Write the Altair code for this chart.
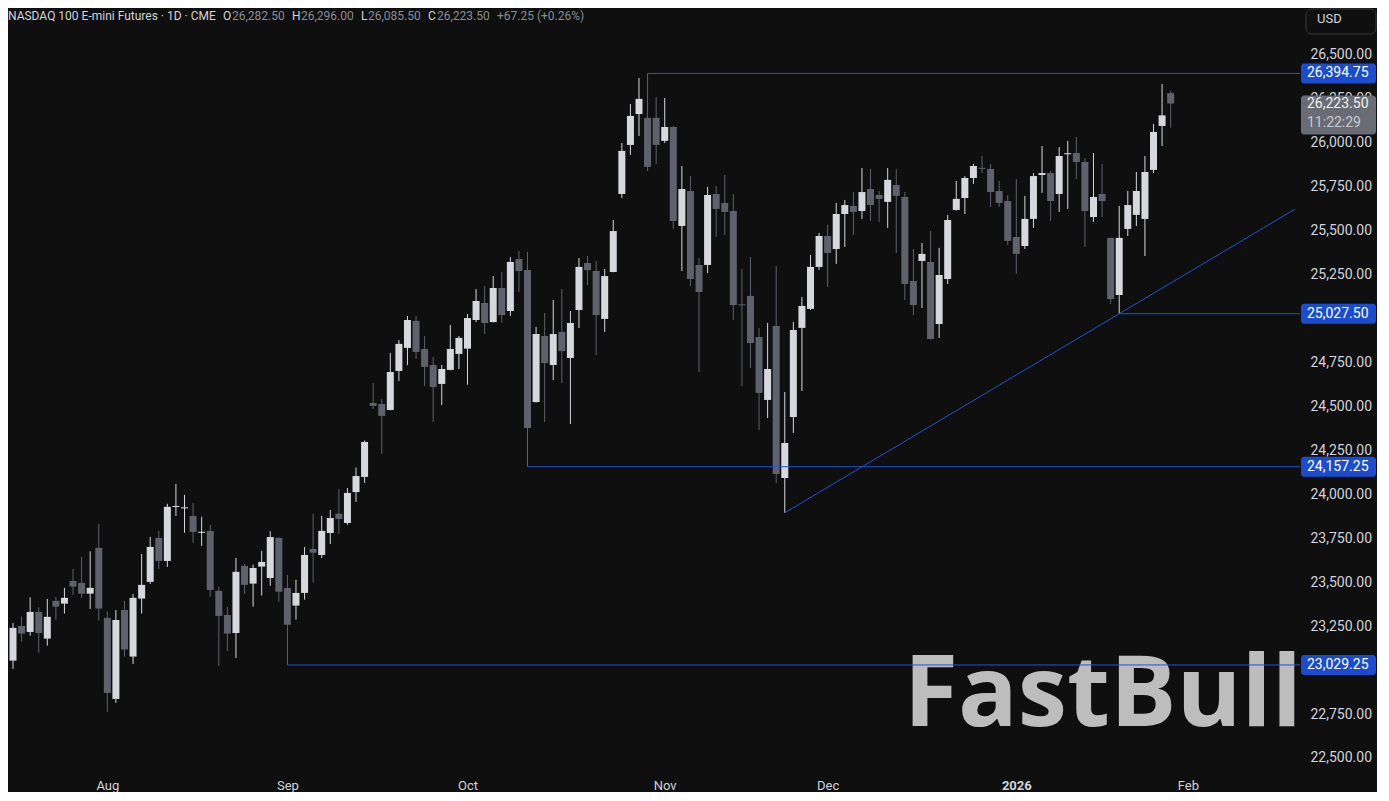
import altair as alt
import pandas as pd

# ---------------- data ----------------
opens = [23054, 23251, 23217, 23331, 23179, 23394, 23378, 23507, 23496, 23435,
         23695, 23297, 22836, 23342, 23077, 23407, 23502, 23752, 23621, 23928,
         23920, 23877, 23781, 23792, 23451, 23314, 23211, 23593, 23492, 23589,
         23524, 23752, 23467, 23367, 23439, 23689, 23655, 23780, 23890, 23837,
         24013, 24099, 24520, 24514, 24480, 24702, 24833, 24987, 24827, 24736,
         24628, 24708, 24799, 24829, 24992, 25089, 24980, 25174, 25043, 25339,
         25276, 24525, 24901, 24736, 24924, 24776, 25049, 25316, 25271, 24998,
         25265, 25709, 25988, 26164, 26142, 26142, 26011, 26090, 25527, 25726,
         25305, 25305, 25709, 25658, 25612, 25081, 25129, 24895, 24537, 24958,
         24093, 24440, 24947, 25055, 25294, 25470, 25396, 25595, 25641, 25612,
         25737, 25703, 25664, 25760, 25692, 25214, 25328, 25322, 24969, 25225,
         25618, 25686, 25800, 25858, 25851, 25726, 25669, 25464, 25413, 25567,
         25817, 25828, 25709, 25935, 25942, 25891, 25578, 25709, 25459, 25134,
         25510, 25590, 25567, 25846, 26096, 26282.50]
highs = [23268, 23306, 23414, 23358, 23405, 23416, 23468, 23576, 23644, 23676,
         23832, 23335, 23342, 23394, 23433, 23661, 23758, 23792, 23946, 24059,
         23997, 23951, 23872, 23826, 23473, 23360, 23638, 23604, 23600, 23678,
         23790, 23755, 23541, 23514, 23700, 23890, 23877, 23911, 24031, 24036,
         24152, 24306, 24634, 24543, 24804, 24878, 25015, 25015, 24901, 24782,
         24736, 24964, 24901, 25026, 25168, 25185, 25242, 25265, 25350, 25385,
         25379, 24952, 25032, 25106, 25168, 25043, 25345, 25356, 25328, 25282,
         25561, 25999, 26221, 26369, 26394.75, 26261, 26255, 26095, 25868, 25811,
         25345, 25749, 25755, 25817, 25709, 25282, 25351, 24946, 24975, 25299,
         24582, 24981, 25123, 25362, 25487, 25533, 25658, 25675, 25720, 25857,
         25851, 25726, 25857, 25851, 25720, 25396, 25430, 25498, 25402, 25589,
         25783, 25811, 25880, 25925, 25880, 25783, 25703, 25794, 25698, 25828,
         25982, 25840, 25976, 26011, 26033, 25914, 25942, 25880, 25462, 25641,
         25726, 25834, 25925, 26107, 26335, 26296.00]
lows = [23007, 23162, 23196, 23098, 23139, 23287, 23322, 23428, 23411, 23348,
        23282, 22762, 22813, 23077, 23035, 23322, 23490, 23576, 23587, 23877,
        23781, 23724, 23707, 23416, 23024, 23109, 23069, 23433, 23361, 23424,
        23480, 23389, 23029.25, 23287, 23401, 23497, 23638, 23717, 23776, 23826,
        23957, 24065, 24486, 24230, 24478, 24645, 24736, 24770, 24617, 24412,
        24508, 24706, 24713, 24624, 24980, 24912, 24978, 24975, 25015, 25151,
        24157.25, 24523, 24411, 24650, 24633, 24400, 24946, 25191, 24793, 24924,
        25263, 25686, 25931, 26039, 25840, 25880, 25999, 25510, 25271, 25185,
        24696, 25259, 25464, 25476, 24992, 24616, 24719, 24366, 24434, 24064,
        23895, 24349, 24588, 25049, 25277, 25180, 25311, 25407, 25476, 25567,
        25555, 25550, 25516, 25373, 25106, 25020, 25060, 24880, 24890, 25197,
        25615, 25595, 25766, 25828, 25635, 25635, 25419, 25254, 25396, 25516,
        25715, 25555, 25607, 25624, 25794, 25407, 25550, 25578, 25083, 25027.50,
        25470, 25527, 25356, 25828, 25982, 26085.50]
closes = [23240, 23208, 23331, 23211, 23303, 23361, 23411, 23475, 23435, 23468,
          23350, 22870, 23285, 23117, 23411, 23485, 23701, 23621, 23929, 23934,
          23926, 23786, 23787, 23456, 23308, 23208, 23559, 23485, 23581, 23615,
          23757, 23446, 23258, 23439, 23655, 23668, 23792, 23865, 23860, 24008,
          24104, 24298, 24503, 24446, 24696, 24856, 24992, 24810, 24725, 24611,
          24713, 24827, 24890, 25003, 25100, 24975, 25174, 25020, 25322, 25271,
          24377, 24912, 24747, 24912, 24815, 24975, 25294, 25276, 25020, 25242,
          25498, 25954, 26153, 26250, 25863, 25988, 26090, 25555, 25737, 25225,
          25151, 25703, 25624, 25607, 25077, 25075, 24861, 24577, 24713, 24116,
          24292, 24935, 25072, 25294, 25470, 25373, 25595, 25646, 25607, 25720,
          25646, 25681, 25789, 25698, 25197, 25077, 25368, 24884, 25248, 25561,
          25681, 25800, 25868, 25852, 25720, 25658, 25442, 25368, 25567, 25811,
          25828, 25669, 25925, 25941, 25891, 25612, 25692, 25669, 25111, 25459,
          25646, 25726, 25834, 26062, 26156.25, 26223.50]

month_labels = ["Aug", "Sep", "Oct", "Nov", "Dec", "2026", "Feb"]
month_start_idx = [12, 33, 54, 77, 96, 118, 138]

level_prices = [26394.75, 25027.50, 24157.25, 23029.25]
level_start_idx = [75, 130, 61, 33]

trend_idx = [91, 130]
trend_price = [23895.0, 25027.5]

countdown = "11:22:29"
# price-axis labels that are visible (25,000 and 23,000 sit under level tags)
y_ticks = [22500, 22750, 23250, 23500, 23750, 24000, 24250, 24500, 24750,
           25250, 25500, 25750, 26000, 26250, 26500]

# ---------------- styling ----------------
BG = "#0f0f0f"
UP = "#d6d8de"
DOWN = "#5f626c"
BLUE = "#2152d8"
TAGBLUE = "#1b4cd0"
TXT = "#d1d4dc"
GRAYTXT = "#8a8d96"
FONT = "Roboto"

W, H = 1292, 754
X0, X1 = 1.0, 150.5
Y0, Y1 = 22460, 26750

n = len(opens)
df = pd.DataFrame({"i": list(range(1, n + 1)), "open": opens, "high": highs,
                   "low": lows, "close": closes})
df["dir"] = ["up" if c >= o else "down" for o, c in zip(opens, closes)]

lab_expr = "".join(f"datum.value == {i} ? '{m}' : " for i, m in zip(month_start_idx, month_labels)) + "''"
year_idx = month_start_idx[month_labels.index("2026")]

xs = alt.Scale(domain=[X0, X1], nice=False, zero=False)
ys = alt.Scale(domain=[Y0, Y1], nice=False, zero=False)

x_axis = alt.Axis(values=month_start_idx, labelExpr=lab_expr, title=None, grid=False,
                  domain=False, ticks=False, labelColor=TXT, labelFontSize=13,
                  labelFont=FONT, labelPadding=14, labelFlush=False, labelOverlap=False,
                  labelFontWeight={"expr": f"datum.value == {year_idx} ? 'bold' : 'normal'"})
y_axis = alt.Axis(values=y_ticks, format=",.2f", orient="right", title=None, grid=False,
                  domain=False, ticks=False, labelColor=TXT, labelFontSize=14,
                  labelFont=FONT, labelPadding=10, labelFlush=False, labelOverlap=False)

color = alt.Color("dir:N", scale=alt.Scale(domain=["up", "down"], range=[UP, DOWN]), legend=None)

one = pd.DataFrame({"a": [0]})

watermark = alt.Chart(one).mark_text(
    text="FastBull", font="Open Sans", fontWeight="bold", fontSize=99,
    color="#bdbdbd", align="right", baseline="alphabetic",
).encode(x=alt.value(W + 2), y=alt.value(715))

wicks = alt.Chart(df).mark_rule(strokeWidth=1, clip=True).encode(
    x=alt.X("i:Q", scale=xs, axis=x_axis),
    y=alt.Y("low:Q", scale=ys, axis=y_axis),
    y2="high:Q",
    color=color,
)
bodies = alt.Chart(df).mark_bar(size=7, clip=True).encode(
    x="i:Q", y="open:Q", y2="close:Q", color=color,
)

lv = pd.DataFrame({"price": level_prices, "start": level_start_idx,
                   "label": [f"{p:,.2f}" for p in level_prices]})
levels = alt.Chart(lv).mark_rule(color=BLUE, strokeWidth=1).encode(
    x="start:Q", x2=alt.value(W), y="price:Q",
)

slope = (trend_price[1] - trend_price[0]) / (trend_idx[1] - trend_idx[0])
tr = pd.DataFrame({"xa": [trend_idx[0]], "ya": [trend_price[0]],
                   "xb": [X1], "yb": [trend_price[1] + slope * (X1 - trend_idx[1])]})
trend = alt.Chart(tr).mark_rule(color=BLUE, strokeWidth=1).encode(
    x="xa:Q", y="ya:Q", x2="xb:Q", y2="yb:Q",
)

tag_rect = alt.Chart(lv).mark_rect(color=TAGBLUE, yOffset=-10, y2Offset=10, cornerRadius=3).encode(
    x=alt.value(W + 1), x2=alt.value(W + 76), y="price:Q", y2="price:Q",
)
tag_text = alt.Chart(lv).mark_text(align="left", baseline="middle", fontSize=14, font=FONT,
                                   color="#ffffff").encode(
    x=alt.value(W + 7), y="price:Q", text="label:N",
)

last = pd.DataFrame({"price": [closes[-1]], "label": [f"{closes[-1]:,.2f}"], "cd": [countdown]})
last_rect = alt.Chart(last).mark_rect(color="#6a6c75", yOffset=-8, y2Offset=31, cornerRadius=3).encode(
    x=alt.value(W + 1), x2=alt.value(W + 76), y="price:Q", y2="price:Q",
)
last_text = alt.Chart(last).mark_text(align="left", baseline="middle", fontSize=14, font=FONT,
                                      color="#f0f0f0").encode(
    x=alt.value(W + 7), y="price:Q", text="label:N",
)
last_cd = alt.Chart(last).mark_text(align="left", baseline="middle", fontSize=14, font=FONT,
                                    color="#c8c9d0", dy=19).encode(
    x=alt.value(W + 7), y="price:Q", text="cd:N",
)

usd_box = alt.Chart(one).mark_rect(fill=BG, stroke="#3a3b40", strokeWidth=1, cornerRadius=6).encode(
    x=alt.value(W + 6), x2=alt.value(W + 76), y=alt.value(-2), y2=alt.value(23),
)
usd_text = alt.Chart(one).mark_text(text="USD", align="left", baseline="middle", fontSize=13,
                                    font=FONT, color=TXT).encode(
    x=alt.value(W + 17), y=alt.value(8),
)

chg = closes[-1] - closes[-2]
pct = chg / closes[-2] * 100
segments = [
    ("NASDAQ 100 E-mini Futures · 1D · CME", TXT, 0),
    ("O", TXT, 215), (f"{opens[-1]:,.2f}", GRAYTXT, 224),
    ("H", TXT, 284), (f"{highs[-1]:,.2f}", GRAYTXT, 293),
    ("L", TXT, 353), (f"{lows[-1]:,.2f}", GRAYTXT, 360),
    ("C", TXT, 420), (f"{closes[-1]:,.2f}", GRAYTXT, 429),
    (f"{chg:+.2f} ({pct:+.2f}%)", GRAYTXT, 489),
]
title_layers = [
    alt.Chart(one).mark_text(text=t, color=c, align="left", baseline="middle", fontSize=12,
                             font=FONT).encode(x=alt.value(px), y=alt.value(5))
    for t, c, px in segments
]

chart = alt.layer(
    watermark, wicks, bodies, levels, trend, tag_rect, tag_text,
    last_rect, last_text, last_cd, usd_box, usd_text, *title_layers,
).properties(width=W, height=H, background=BG, padding=0).configure_view(stroke=None)

chart.save("out.html", embed_options={"renderer": "svg", "actions": False})
